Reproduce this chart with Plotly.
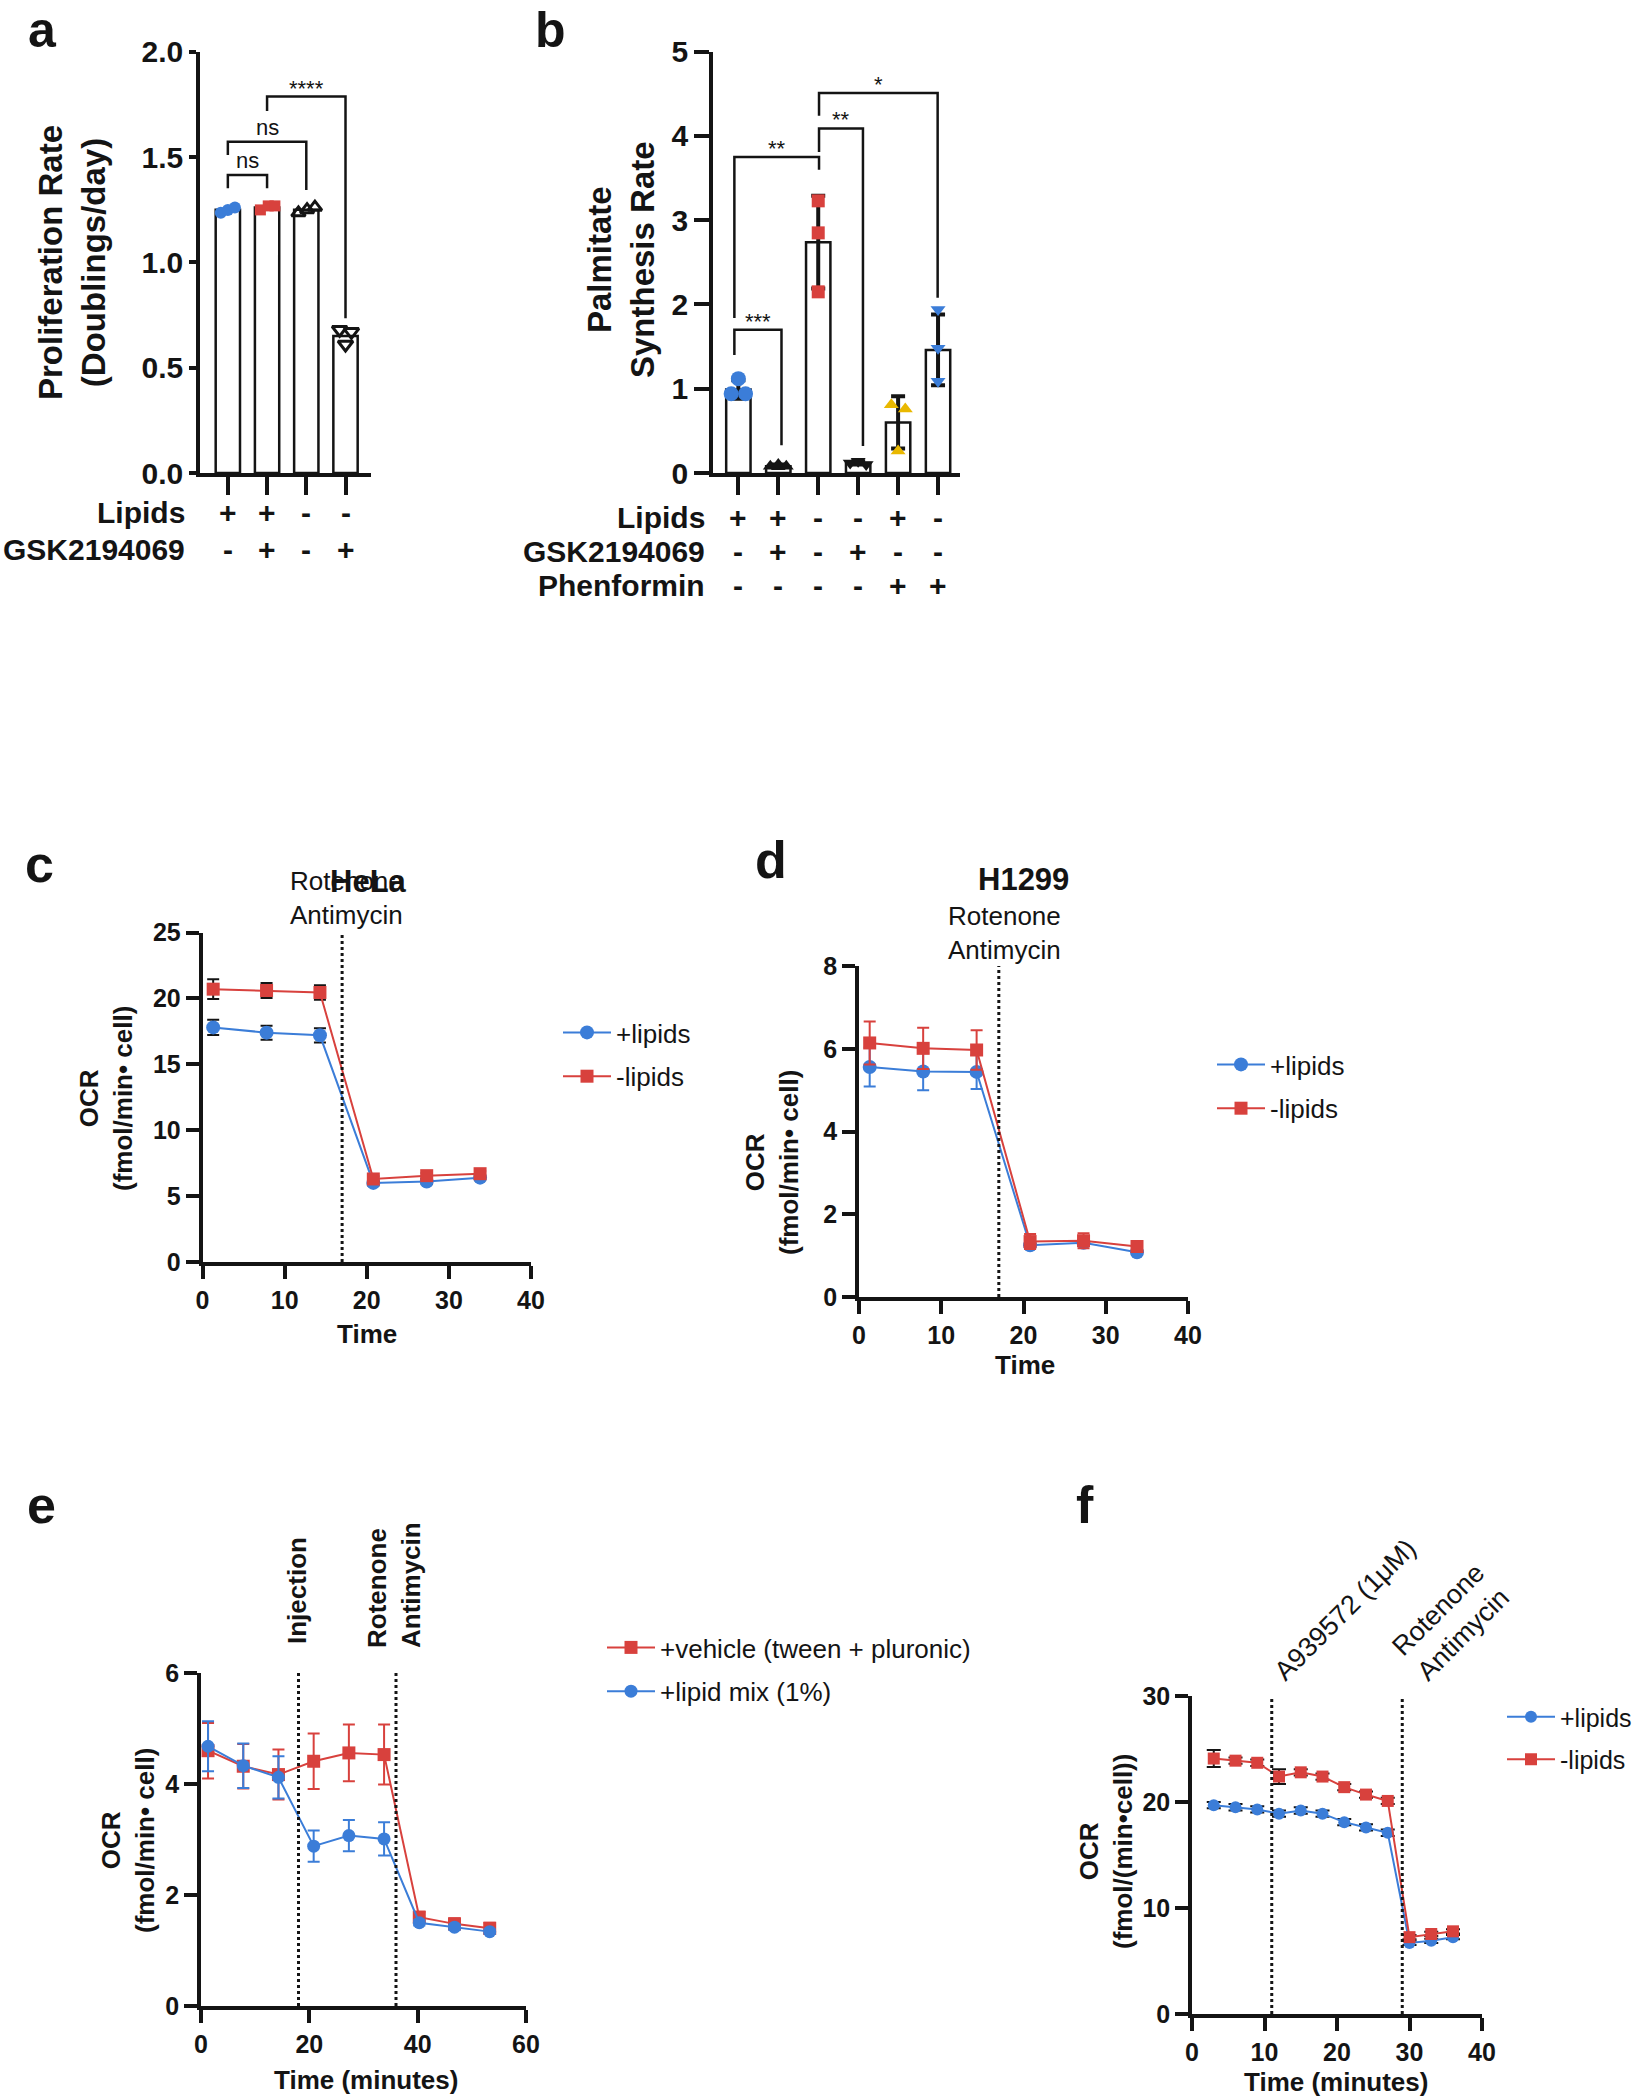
import plotly.graph_objects as go

W, H = 1637, 2100
FONT = "Arial, 'Liberation Sans', Helvetica, sans-serif"
BLUE = "#3B7DD8"
RED = "#D8413D"
YELLOW = "#E9B800"
INK = "#141414"


def px(x):
    return x / W


def py(y):
    return 1 - y / H


# ---------------- data ----------------
# panel a
a_pos = [0, 1, 2, 3]
a_means = [1.25, 1.26, 1.25, 0.65]
a_points = [[1.236, 1.249, 1.26], [1.249, 1.268, 1.268], [1.235, 1.25, 1.262], [0.68, 0.61, 0.67]]
a_jitter = [[-0.18, 0.0, 0.18], [-0.17, 0.03, 0.2], [-0.2, 0.02, 0.22], [-0.15, 0.0, 0.15]]
a_lipids = ["+", "+", "-", "-"]
a_gsk = ["-", "+", "-", "+"]
# (left group, right group, bar height, left leg end, right leg end, label)
a_brackets = [(0, 1, 1.415, 1.352, 1.352, "ns"),
              (0, 2, 1.573, 1.51, 1.344, "ns"),
              (1, 3, 1.787, 1.719, 0.735, "****")]

# panel b
b_pos = [0, 1, 2, 3, 4, 5]
b_means = [0.99, 0.08, 2.74, 0.12, 0.60, 1.46]
b_sd = [0.11, 0.02, 0.55, 0.02, 0.31, 0.42]
b_points = [[0.94, 1.12, 0.94], [0.08, 0.10, 0.08], [2.15, 2.85, 3.23],
            [0.12, 0.14, 0.10], [0.81, 0.26, 0.76], [1.09, 1.48, 1.94]]
b_jitter = [[-0.18, 0, 0.18], [-0.2, 0, 0.2], [0, 0, 0], [-0.2, 0, 0.2], [-0.17, 0, 0.18], [0, 0, 0]]
b_lipids = ["+", "+", "-", "-", "+", "-"]
b_gsk = ["-", "+", "-", "+", "-", "-"]
b_phen = ["-", "-", "-", "-", "+", "+"]
b_brackets = [(-0.1, 1.08, 1.70, 1.40, 0.33, "***"),
              (-0.1, 2.02, 3.75, 1.84, 3.60, "**"),
              (2.02, 3.12, 4.09, 3.81, 0.32, "**"),
              (2.02, 4.99, 4.51, 4.24, 2.08, "*")]

# panel c (HeLa)
t_cd = [1.3, 7.8, 14.3, 20.8, 27.3, 33.8]
c_plus = [17.8, 17.4, 17.2, 6.0, 6.1, 6.4]
c_plus_err = [0.58, 0.53, 0.54, 0.2, 0.2, 0.2]
c_minus = [20.7, 20.6, 20.45, 6.3, 6.55, 6.7]
c_minus_err = [0.75, 0.57, 0.55, 0.2, 0.2, 0.2]
c_inject = [17]

# panel d (H1299)
d_plus = [5.56, 5.45, 5.44, 1.25, 1.31, 1.08]
d_plus_err = [0.47, 0.45, 0.41, 0.08, 0.08, 0.06]
d_minus = [6.14, 6.01, 5.97, 1.34, 1.36, 1.22]
d_minus_err = [0.52, 0.50, 0.48, 0.18, 0.18, 0.12]
d_inject = [17]

# panel e
t_e = [1.3, 7.8, 14.3, 20.8, 27.3, 33.8, 40.3, 46.8, 53.3]
e_vehicle = [4.6, 4.32, 4.17, 4.41, 4.56, 4.53, 1.6, 1.48, 1.4]
e_vehicle_err = [0.5, 0.4, 0.45, 0.5, 0.51, 0.54, 0.1, 0.1, 0.1]
e_lipid = [4.68, 4.33, 4.12, 2.88, 3.07, 3.01, 1.5, 1.42, 1.34]
e_lipid_err = [0.45, 0.4, 0.38, 0.28, 0.28, 0.3, 0.05, 0.05, 0.04]
e_inject = [18, 36]

# panel f
t_f = [3, 6, 9, 12, 15, 18, 21, 24, 27, 30, 33, 36]
f_plus = [19.7, 19.5, 19.3, 18.9, 19.2, 18.9, 18.1, 17.6, 17.1, 6.7, 6.9, 7.25]
f_plus_err = [0.3] * 9 + [0.2] * 3
f_minus = [24.1, 23.9, 23.7, 22.4, 22.8, 22.4, 21.4, 20.7, 20.1, 7.25, 7.55, 7.8]
f_minus_err = [0.8, 0.3, 0.3, 0.7, 0.3, 0.3, 0.3, 0.3, 0.3, 0.2, 0.2, 0.2]
f_inject = [11, 29]

fig = go.Figure()
shapes = []
annotations = []


def ann(x, y, text, size, bold=False, xref="paper", yref="paper", angle=0,
        xanchor="center", yanchor="middle", align="center", yshift=0):
    annotations.append(dict(
        x=x, y=y, xref=xref, yref=yref, text=("<b>%s</b>" % text) if bold else text,
        showarrow=False, textangle=angle, xanchor=xanchor, yanchor=yanchor, align=align,
        yshift=yshift, font=dict(family=FONT, size=size, color=INK)))


# ---------------- panel a ----------------
fig.add_trace(go.Bar(x=a_pos, y=a_means, width=0.62, xaxis="x", yaxis="y", showlegend=False,
                     marker=dict(color="white", line=dict(color=INK, width=2.5))))
a_styles = [dict(symbol="circle", size=12, color=BLUE),
            dict(symbol="square", size=11, color=RED),
            dict(symbol="triangle-up-open", size=12, color=INK, line=dict(width=3, color=INK)),
            dict(symbol="triangle-down-open", size=13, color=INK, line=dict(width=3, color=INK))]
for i in range(4):
    fig.add_trace(go.Scatter(x=[a_pos[i] + j for j in a_jitter[i]], y=a_points[i], mode="markers",
                             marker=a_styles[i], xaxis="x", yaxis="y", showlegend=False,
                             cliponaxis=False))
for (g1, g2, yt, yl, yr, lab) in a_brackets:
    shapes.append(dict(type="path", xref="x", yref="y",
                       path="M %s,%s L %s,%s L %s,%s L %s,%s" % (g1, yl, g1, yt, g2, yt, g2, yr),
                       line=dict(color=INK, width=2.5)))
    ann((g1 + g2) / 2, yt, lab, 22, xref="x", yref="y", yanchor="bottom",
        yshift=(-6 if "*" in lab else 0))
for i in range(4):
    ann(a_pos[i], py(512), a_lipids[i], 30, bold=True, xref="x")
    ann(a_pos[i], py(549), a_gsk[i], 30, bold=True, xref="x")
ann(px(187), py(512), "Lipids", 30, bold=True, xanchor="right")
ann(px(187), py(549), "GSK2194069", 30, bold=True, xanchor="right")
ann(px(72), py(263), "Proliferation Rate<br>(Doublings/day)", 33, bold=True, angle=-90)
ann(px(42), 1, "a", 50, bold=True, yanchor="top")

# ---------------- panel b ----------------
fig.add_trace(go.Bar(x=b_pos, y=b_means, width=0.61, xaxis="x2", yaxis="y2", showlegend=False,
                     marker=dict(color="white", line=dict(color=INK, width=2.5)),
                     error_y=dict(type="data", array=b_sd, visible=True, color=INK,
                                  thickness=4, width=7)))
b_styles = [dict(symbol="circle", size=15, color=BLUE),
            dict(symbol="triangle-up", size=13, color=INK),
            dict(symbol="square", size=13, color=RED),
            dict(symbol="triangle-down", size=13, color=INK),
            dict(symbol="triangle-up", size=13, color=YELLOW),
            dict(symbol="triangle-down", size=13, color=BLUE)]
for i in range(6):
    fig.add_trace(go.Scatter(x=[b_pos[i] + j for j in b_jitter[i]], y=b_points[i], mode="markers",
                             marker=b_styles[i], xaxis="x2", yaxis="y2", showlegend=False,
                             cliponaxis=False))
for (g1, g2, yt, yl, yr, lab) in b_brackets:
    shapes.append(dict(type="path", xref="x2", yref="y2",
                       path="M %s,%s L %s,%s L %s,%s L %s,%s" % (g1, yl, g1, yt, g2, yt, g2, yr),
                       line=dict(color=INK, width=2.5)))
    ann((g1 + g2) / 2, yt, lab, 22, xref="x2", yref="y2", yanchor="bottom", yshift=-6)
for i in range(6):
    ann(b_pos[i], py(517), b_lipids[i], 30, bold=True, xref="x2")
    ann(b_pos[i], py(551), b_gsk[i], 30, bold=True, xref="x2")
    ann(b_pos[i], py(585), b_phen[i], 30, bold=True, xref="x2")
ann(px(707), py(517), "Lipids", 30, bold=True, xanchor="right")
ann(px(707), py(551), "GSK2194069", 30, bold=True, xanchor="right")
ann(px(707), py(585), "Phenformin", 30, bold=True, xanchor="right")
ann(px(621), py(260), "Palmitate<br>Synthesis Rate", 33, bold=True, angle=-90)
ann(px(550), 1, "b", 50, bold=True, yanchor="top")


# ---------------- line panels ----------------
def line_trace(x, y, err, color, symbol, size, name, ax, legend, errcolor, errw=6):
    return go.Scatter(x=x, y=y, name=name, mode="lines+markers", xaxis="x" + ax, yaxis="y" + ax,
                      legend=legend, legendgroup=name + ax, cliponaxis=False,
                      line=dict(color=color, width=2),
                      marker=dict(symbol=symbol, size=size, color=color),
                      error_y=dict(type="data", array=err, visible=True, color=errcolor,
                                   thickness=2, width=errw))


fig.add_trace(line_trace(t_cd, c_plus, c_plus_err, BLUE, "circle", 14, "+lipids", "3", "legend", INK))
fig.add_trace(line_trace(t_cd, c_minus, c_minus_err, RED, "square", 13, "-lipids", "3", "legend", INK))
fig.add_trace(line_trace(t_cd, d_plus, d_plus_err, BLUE, "circle", 14, "+lipids", "4", "legend2", BLUE))
fig.add_trace(line_trace(t_cd, d_minus, d_minus_err, RED, "square", 13, "-lipids", "4", "legend2", RED))
fig.add_trace(line_trace(t_e, e_vehicle, e_vehicle_err, RED, "square", 13,
                         "+vehicle (tween + pluronic)", "5", "legend3", RED))
fig.add_trace(line_trace(t_e, e_lipid, e_lipid_err, BLUE, "circle", 13,
                         "+lipid mix (1%)", "5", "legend3", BLUE))
fig.add_trace(line_trace(t_f, f_plus, f_plus_err, BLUE, "circle", 12, "+lipids", "6", "legend4", INK, 7))
fig.add_trace(line_trace(t_f, f_minus, f_minus_err, RED, "square", 12, "-lipids", "6", "legend4", INK, 7))

for ax, xs in (("3", c_inject), ("4", d_inject), ("5", e_inject), ("6", f_inject)):
    for xv in xs:
        shapes.append(dict(type="line", xref="x" + ax, yref="y%s domain" % ax, x0=xv, x1=xv,
                           y0=0, y1=1, line=dict(color=INK, width=3, dash="dot")))

# panel c texts
ann(px(39), py(864), "c", 52, bold=True)
ann(px(346), py(898), "Rotenone<br>Antimycin", 26)
ann(px(368), py(881), "HeLa", 31, bold=True)
ann(px(106), py(1099), "OCR<br>(fmol/min• cell)", 26, bold=True, angle=-90)
ann(px(367), py(1334), "Time", 26, bold=True)

# panel d texts
ann(px(771), py(860), "d", 52, bold=True)
ann(px(1023), py(879), "H1299", 31, bold=True)
ann(px(1004), py(933), "Rotenone<br>Antimycin", 26)
ann(px(772), py(1163), "OCR<br>(fmol/min• cell)", 26, bold=True, angle=-90)
ann(px(1025), py(1365), "Time", 26, bold=True)

# panel e texts
ann(px(41), py(1505), "e", 52, bold=True)
ann(px(297), py(1591), "Injection", 26, bold=True, angle=-90)
ann(px(394), py(1585), "Rotenone<br>Antimycin", 26, bold=True, angle=-90, align="left")
ann(px(128), py(1841), "OCR<br>(fmol/min• cell)", 26, bold=True, angle=-90)
ann(px(366), py(2080), "Time (minutes)", 26, bold=True)

# panel f texts
ann(px(1085), py(1505), "f", 52, bold=True)
ann(px(1345), py(1610), "A939572 (1μM)", 27, angle=-45)
ann(px(1450), py(1622), "Rotenone<br>Antimycin", 27, angle=-45, align="left")
ann(px(1106), py(1852), "OCR<br>(fmol/(min•cell))", 26, bold=True, angle=-90)
ann(px(1336), py(2082), "Time (minutes)", 26, bold=True)


# ---------------- axes ----------------
def axis(domain, rng, anchor, ticklen, size, tickvals=None, dtick=None, fmt=None, labels=True):
    d = dict(domain=domain, range=rng, anchor=anchor, showline=True, linewidth=3.5, linecolor=INK,
             ticks="outside", ticklen=ticklen, tickwidth=3.5, tickcolor=INK, showgrid=False,
             zeroline=False, showticklabels=labels, fixedrange=True, automargin=False,
             tickfont=dict(family=FONT, size=size, color=INK, weight="bold"))
    if tickvals is not None:
        d["tickvals"] = tickvals
    if dtick is not None:
        d["dtick"] = dtick
        d["tick0"] = 0
    if fmt:
        d["tickformat"] = fmt
    return d


layout = dict(
    width=W, height=H, margin=dict(l=0, r=0, t=0, b=0, pad=0, autoexpand=False),
    paper_bgcolor="white", plot_bgcolor="white", showlegend=True, barmode="overlay",
    xaxis=axis([px(200), px(371)], [-0.71, 3.65], "y", 18, 30, tickvals=a_pos, labels=False),
    yaxis=axis([py(473), py(51.7)], [0, 2], "x", 7, 30, dtick=0.5, fmt=".1f"),
    xaxis2=axis([px(713), px(960)], [-0.635, 5.55], "y2", 18, 30, tickvals=b_pos, labels=False),
    yaxis2=axis([py(473), py(51.7)], [0, 5], "x2", 15, 30, dtick=1),
    xaxis3=axis([px(202.5), px(531)], [0, 40], "y3", 13, 25, dtick=10),
    yaxis3=axis([py(1262), py(932.5)], [0, 25], "x3", 13, 25, dtick=5),
    xaxis4=axis([px(859), px(1188)], [0, 40], "y4", 13, 25, dtick=10),
    yaxis4=axis([py(1297), py(966)], [0, 8], "x4", 13, 25, dtick=2),
    xaxis5=axis([px(201), px(526)], [0, 60], "y5", 13, 25, dtick=20),
    yaxis5=axis([py(2006), py(1673)], [0, 6], "x5", 13, 25, dtick=2),
    xaxis6=axis([px(1192), px(1482)], [0, 40], "y6", 13, 25, dtick=10),
    yaxis6=axis([py(2014), py(1696)], [0, 30], "x6", 13, 25, dtick=10),
    shapes=shapes, annotations=annotations,
)


def leg(mx, my, size=26):
    return dict(x=px(mx - 20), y=py(my - 23), xanchor="left", yanchor="top",
                bgcolor="rgba(0,0,0,0)", borderwidth=0,
                font=dict(family=FONT, size=size, color=INK), itemwidth=48,
                traceorder="grouped", tracegroupgap=7, itemclick=False)


layout["legend"] = leg(578, 1032)
layout["legend2"] = leg(1232, 1064)
layout["legend3"] = leg(622, 1647)
layout["legend4"] = leg(1522, 1717, 25)

fig.update_layout(**layout)
fig.write_html("out.html", config={"displayModeBar": False},
               post_script="document.body.style.margin='0px';document.body.style.overflow='hidden';")
